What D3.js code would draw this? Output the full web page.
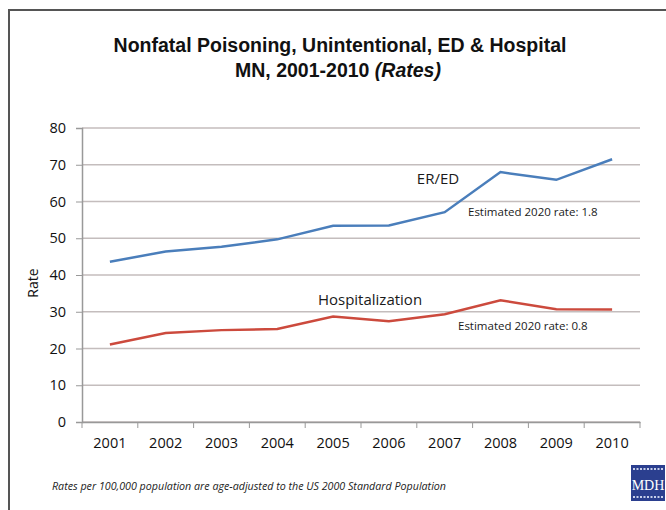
<!DOCTYPE html>
<html>
<head>
<meta charset="utf-8">
<script src="https://cdn.jsdelivr.net/npm/d3@7"></script>
<style>
  body { margin: 0; background: #fff; }
  svg { display: block; }
</style>
</head>
<body>
<svg id="chart" width="666" height="510"></svg>
<script>
// DATA
const years = ["2001", "2002", "2003", "2004", "2005", "2006", "2007", "2008", "2009", "2010"];
const erEd = [43.6, 46.4, 47.7, 49.7, 53.4, 53.5, 57.1, 68.0, 65.9, 71.5];
const hospital = [21.1, 24.2, 25.0, 25.3, 28.7, 27.4, 29.3, 33.1, 30.7, 30.6];
const yTicks = [0, 10, 20, 30, 40, 50, 60, 70, 80];

const margin = { top: 128, right: 26, bottom: 88, left: 82 };
const width = 666, height = 510;

const svg = d3.select("#chart");

// frame round the slide
svg.append("rect")
    .attr("x", 9).attr("y", 10)
    .attr("width", 700).attr("height", 560)
    .attr("fill", "#fff")
    .attr("stroke", "#555")
    .attr("stroke-width", 2);

// SCALES
const xScale = d3.scaleBand()
    .domain(years)
    .range([margin.left, width - margin.right]);

const yScale = d3.scaleLinear()
    .domain([0, 80])
    .range([height - margin.bottom, margin.top]);

// GRIDLINES
svg.append("g")
    .selectAll("line")
    .data(yTicks)
    .join("line")
    .attr("x1", margin.left)
    .attr("x2", width - margin.right)
    .attr("y1", d => yScale(d))
    .attr("y2", d => yScale(d))
    .attr("stroke", "#c4bdbd")
    .attr("stroke-width", 1.5);

// AXES
const yAxis = svg.append("g")
    .attr("transform", `translate(${margin.left}, 0)`)
    .call(d3.axisLeft(yScale).tickValues(yTicks).tickSize(6).tickPadding(10));

const xAxis = svg.append("g")
    .attr("transform", `translate(0, ${height - margin.bottom})`)
    .call(d3.axisBottom(xScale).tickSize(0).tickPadding(16));

// tick marks at the band edges, like Excel does
svg.append("g")
    .selectAll("line")
    .data(years.concat(["end"]))
    .join("line")
    .attr("x1", (d, i) => xScale.range()[0] + i * xScale.step())
    .attr("x2", (d, i) => xScale.range()[0] + i * xScale.step())
    .attr("y1", height - margin.bottom)
    .attr("y2", height - margin.bottom + 6)
    .attr("stroke", "#999");

[yAxis, xAxis].forEach(g => {
    g.select(".domain").attr("stroke", "#999").attr("stroke-width", 1.5);
    g.selectAll(".tick line").attr("stroke", "#999");
    g.selectAll(".tick text")
        .attr("fill", "#111")
        .style("font-family", "'Open Sans', sans-serif")
        .style("font-size", "14.5px");
});

// LINES
const line = d3.line()
    .x((d, i) => xScale(years[i]) + xScale.bandwidth() / 2)
    .y(d => yScale(d));

svg.append("path")
    .datum(erEd)
    .attr("d", line)
    .attr("fill", "none")
    .attr("stroke", "#4a7ebb")
    .attr("stroke-width", 2.5);

svg.append("path")
    .datum(hospital)
    .attr("d", line)
    .attr("fill", "none")
    .attr("stroke", "#cc4a3d")
    .attr("stroke-width", 2.5);

// TITLE
const title = svg.append("text")
    .attr("x", 340)
    .attr("text-anchor", "middle")
    .attr("fill", "#111")
    .style("font-family", "'Liberation Sans', Arial, sans-serif")
    .style("font-weight", "bold")
    .style("font-size", "19.5px");

title.append("tspan").attr("x", 340).attr("y", 52)
    .text("Nonfatal Poisoning, Unintentional, ED & Hospital");
const t2 = title.append("tspan").attr("x", 338).attr("y", 77);
t2.append("tspan").text("MN, 2001-2010 ");
t2.append("tspan").style("font-style", "italic").text("(Rates)");

// Y LABEL
svg.append("text")
    .attr("transform", `translate(38, 283) rotate(-90)`)
    .attr("text-anchor", "middle")
    .attr("fill", "#111")
    .style("font-family", "'Open Sans', sans-serif")
    .style("font-size", "14px")
    .text("Rate");

// ANNOTATIONS
const ann = [
    { text: "ER/ED", x: 438, y: 184, size: 15, anchor: "middle" },
    { text: "Estimated 2020 rate: 1.8", x: 468, y: 216, size: 11.5, anchor: "start" },
    { text: "Hospitalization", x: 370, y: 305, size: 15, anchor: "middle" },
    { text: "Estimated 2020 rate: 0.8", x: 458, y: 330, size: 11.5, anchor: "start" }
];

svg.append("g")
    .selectAll("text")
    .data(ann)
    .join("text")
    .attr("x", d => d.x)
    .attr("y", d => d.y)
    .attr("text-anchor", d => d.anchor)
    .attr("fill", "#1a1a1a")
    .style("font-family", "'Open Sans', sans-serif")
    .style("font-size", d => d.size + "px")
    .text(d => d.text);

// FOOTNOTE
svg.append("text")
    .attr("x", 52)
    .attr("y", 490)
    .attr("fill", "#222")
    .style("font-family", "'Open Sans', sans-serif")
    .style("font-style", "italic")
    .style("font-size", "10.7px")
    .text("Rates per 100,000 population are age-adjusted to the US 2000 Standard Population");

// MDH LOGO
const logo = svg.append("g").attr("transform", "translate(631, 465)");
logo.append("rect")
    .attr("width", 34).attr("height", 36)
    .attr("fill", "#2b3f8f");
[4, 32].forEach(y => logo.append("line")
    .attr("x1", 2).attr("x2", 33)
    .attr("y1", y).attr("y2", y)
    .attr("stroke", "#c8d0ea")
    .attr("stroke-width", 2)
    .attr("stroke-dasharray", "2,1.5"));
logo.append("text")
    .attr("x", 17).attr("y", 25)
    .attr("text-anchor", "middle")
    .attr("fill", "#fff")
    .style("font-family", "'Liberation Serif', serif")
    .style("font-size", "14px")
    .text("MDH");
</script>
</body>
</html>
